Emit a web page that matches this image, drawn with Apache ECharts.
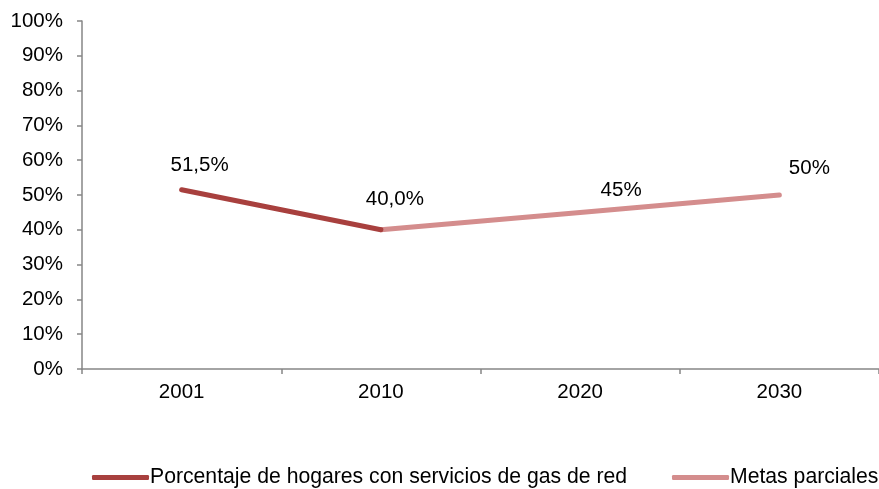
<!DOCTYPE html>
<html>
<head>
<meta charset="utf-8">
<script src="https://cdn.jsdelivr.net/npm/echarts@6/dist/echarts.min.js"></script>
<style>
  html, body { margin: 0; padding: 0; background: #fff; }
  #chart { width: 879px; height: 489px; }
</style>
</head>
<body>
<div id="chart"></div>
<script>
// años y valores (en %)
const years = ['2001', '2010', '2020', '2030']
const hogares = [51.5, 40.0, null, null]
const metas = [null, 40, 45, 50]
const seriesNames = ['Porcentaje de hogares con servicios de gas de red', 'Metas parciales']

const fontFamily = 'Liberation Sans, Arial, sans-serif'
const fontSize = 20.5
const axisColor = '#868686'

// desplazamiento de las etiquetas, a mano como en el original
const hogaresOffsets = [[18, -24], [14, -30], [0, 0], [0, 0]]
const metasOffsets = [[0, 0], [0, 0], [41, -22], [30, -27]]

function toData(values, offsets, digits, hideIdx) {
  return values.map((v, i) => {
    if (v === null) return '-'
    return {
      value: v,
      label: {
        show: hideIdx.indexOf(i) < 0,
        offset: offsets[i],
        formatter: v.toFixed(digits).replace('.', ',') + '%'
      }
    }
  })
}

function lineSeries(name, values, offsets, digits, hideIdx, color, z) {
  return {
    name,
    type: 'line',
    data: toData(values, offsets, digits, hideIdx),
    showSymbol: true,
    symbol: 'circle',
    symbolSize: 1,
    color,
    lineStyle: { width: 5, cap: 'round', join: 'round' },
    label: { show: true, position: 'inside', color: '#000', fontSize, fontFamily },
    z
  }
}

const chart = echarts.init(document.getElementById('chart'))
chart.setOption({
  animation: false,
  textStyle: { fontFamily },
  grid: { left: 82, right: -3, top: 21, bottom: 120 },
  legend: {
    top: 462,
    left: 87,
    width: 1100,
    itemWidth: 57,
    itemHeight: 5,
    itemGap: 45,
    icon: 'roundRect',
    textStyle: { fontSize: 21.2, color: '#000', fontFamily, padding: [0, 0, 0, -4] },
    data: seriesNames
  },
  xAxis: {
    type: 'category',
    data: years,
    boundaryGap: true,
    axisLine: { lineStyle: { color: axisColor, width: 1.5 } },
    axisTick: { show: true, length: 5, lineStyle: { color: axisColor, width: 1.5 } },
    axisLabel: { color: '#000', fontSize, margin: 13, fontFamily }
  },
  yAxis: {
    type: 'value',
    min: 0,
    max: 100,
    interval: 10,
    splitLine: { show: false },
    axisLine: { show: true, lineStyle: { color: axisColor, width: 1.5 } },
    axisTick: { show: true, length: 5, lineStyle: { color: axisColor, width: 1.5 } },
    axisLabel: { color: '#000', fontSize, margin: 19, fontFamily, formatter: '{value}%' }
  },
  series: [
    lineSeries(seriesNames[0], hogares, hogaresOffsets, 1, [], '#A8403E', 3),
    lineSeries(seriesNames[1], metas, metasOffsets, 0, [1], '#D48D8D', 2)
  ]
})
</script>
</body>
</html>
